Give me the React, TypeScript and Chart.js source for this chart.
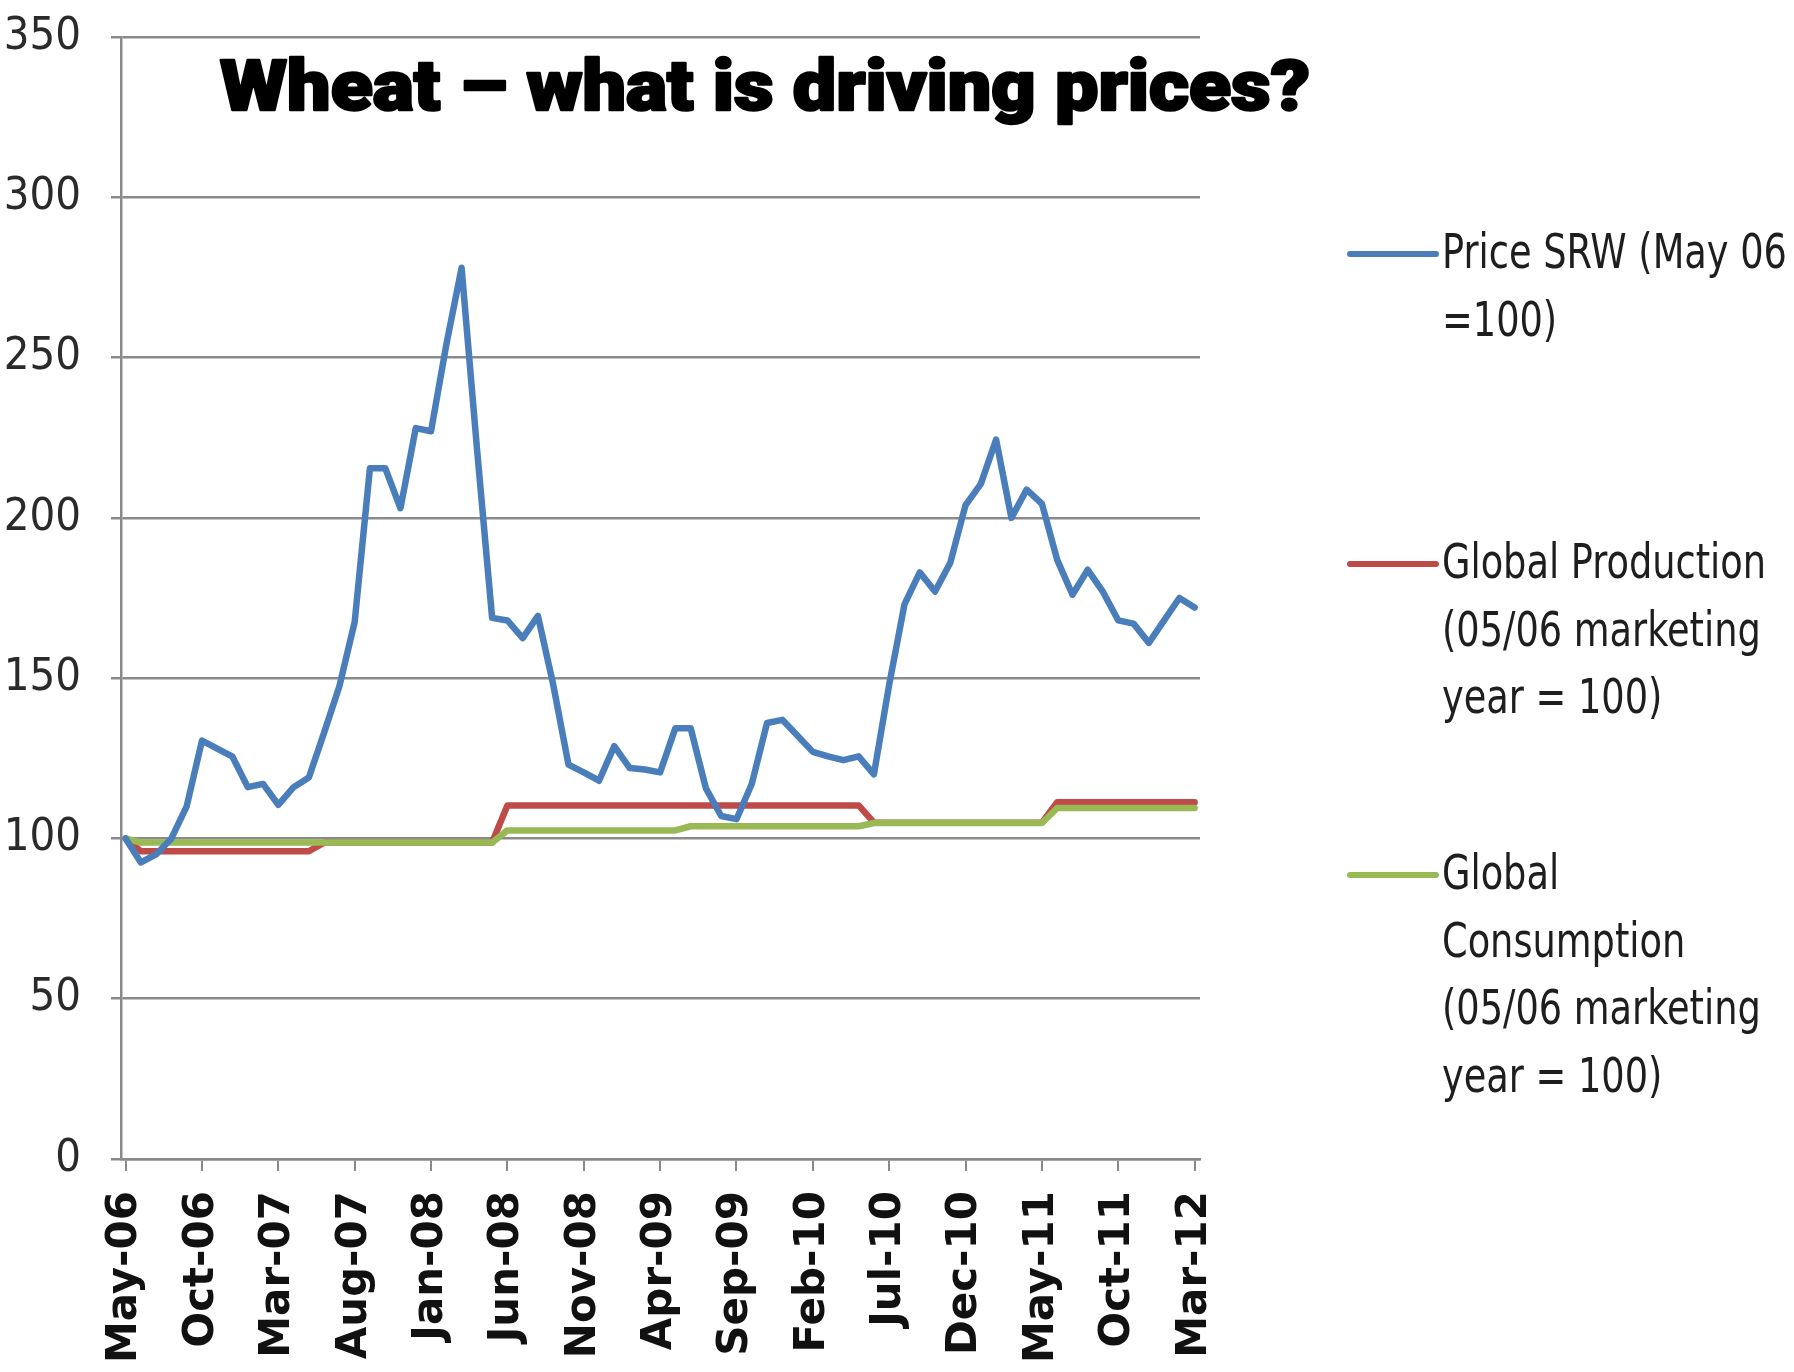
import React, { useEffect, useRef } from "react";
import { Chart, registerables } from "chart.js";

Chart.register(...registerables);

// ---------- data ----------
const months = [
  "May-06", "Jun-06", "Jul-06", "Aug-06", "Sep-06", "Oct-06", "Nov-06", "Dec-06",
  "Jan-07", "Feb-07", "Mar-07", "Apr-07", "May-07", "Jun-07", "Jul-07", "Aug-07", "Sep-07", "Oct-07", "Nov-07", "Dec-07",
  "Jan-08", "Feb-08", "Mar-08", "Apr-08", "May-08", "Jun-08", "Jul-08", "Aug-08", "Sep-08", "Oct-08", "Nov-08", "Dec-08",
  "Jan-09", "Feb-09", "Mar-09", "Apr-09", "May-09", "Jun-09", "Jul-09", "Aug-09", "Sep-09", "Oct-09", "Nov-09", "Dec-09",
  "Jan-10", "Feb-10", "Mar-10", "Apr-10", "May-10", "Jun-10", "Jul-10", "Aug-10", "Sep-10", "Oct-10", "Nov-10", "Dec-10",
  "Jan-11", "Feb-11", "Mar-11", "Apr-11", "May-11", "Jun-11", "Jul-11", "Aug-11", "Sep-11", "Oct-11", "Nov-11", "Dec-11",
  "Jan-12", "Feb-12", "Mar-12",
];

const tickLabels = [
  "May-06", "Oct-06", "Mar-07", "Aug-07", "Jan-08", "Jun-08", "Nov-08", "Apr-09",
  "Sep-09", "Feb-10", "Jul-10", "Dec-10", "May-11", "Oct-11", "Mar-12",
];

const yTicks = [0, 50, 100, 150, 200, 250, 300, 350];

const priceSRW = [
  100, 92.5, 95, 100, 110, 130.5, 128, 125.5, 116, 117,
  110.5, 116, 119, 133, 147.5, 167.5, 215.5, 215.5, 203, 228,
  227, 254, 278, 222, 168.8, 168, 162.5, 169.4, 148, 123,
  120.6, 118, 128.8, 122, 121.5, 120.6, 134.4, 134.4, 115.6, 107,
  106, 117, 136, 137, 132, 127, 125.6, 124.4, 125.6, 120,
  148, 173, 183, 177, 186, 204, 210.6, 224.4, 200, 208.8,
  204.4, 186.9, 176, 183.8, 176.9, 168, 167, 161, 168, 175, 172,
];

const globalProduction = [
  100,
  96, 96, 96, 96, 96, 96, 96, 96, 96, 96, 96, 96,
  98.7, 98.7, 98.7, 98.7, 98.7, 98.7, 98.7, 98.7, 98.7, 98.7, 98.7, 98.7,
  110.3, 110.3, 110.3, 110.3, 110.3, 110.3, 110.3, 110.3, 110.3, 110.3, 110.3, 110.3,
  110.3, 110.3, 110.3, 110.3, 110.3, 110.3, 110.3, 110.3, 110.3, 110.3, 110.3, 110.3,
  104.9, 104.9, 104.9, 104.9, 104.9, 104.9, 104.9, 104.9, 104.9, 104.9, 104.9, 104.9,
  111.3, 111.3, 111.3, 111.3, 111.3, 111.3, 111.3, 111.3, 111.3, 111.3,
];

const globalConsumption = [
  100,
  98.7, 98.7, 98.7, 98.7, 98.7, 98.7, 98.7, 98.7, 98.7, 98.7, 98.7, 98.7,
  98.7, 98.7, 98.7, 98.7, 98.7, 98.7, 98.7, 98.7, 98.7, 98.7, 98.7, 98.7,
  102.5, 102.5, 102.5, 102.5, 102.5, 102.5, 102.5, 102.5, 102.5, 102.5, 102.5, 102.5,
  103.8, 103.8, 103.8, 103.8, 103.8, 103.8, 103.8, 103.8, 103.8, 103.8, 103.8, 103.8,
  104.8, 104.8, 104.8, 104.8, 104.8, 104.8, 104.8, 104.8, 104.8, 104.8, 104.8, 104.8,
  109.5, 109.5, 109.5, 109.5, 109.5, 109.5, 109.5, 109.5, 109.5, 109.5,
];

const titleText = "Wheat \u2013 what is driving prices?";

const legendPrice = ["Price SRW (May 06", "=100)"];
const legendProduction = ["Global Production", "(05/06 marketing", "year = 100)"];
const legendConsumption = ["Global", "Consumption", "(05/06 marketing", "year = 100)"];

// ---------- styles ----------
const BLUE = "#4a7ebb";
const RED = "#be4b48";
const GREEN = "#98b954";
const GRID = "#8a8a8a";
const NARROW = '"Liberation Sans Narrow", "DejaVu Sans Condensed", "Liberation Sans", sans-serif';

const toPoints = (arr: number[]) => arr.map((v, i) => ({ x: i, y: v }));

const overlayPlugin = {
  id: "overlay",
  afterDraw(chart: any) {
    const ctx: CanvasRenderingContext2D = chart.ctx;
    // title
    ctx.save();
    ctx.font = '900 70px Roboto, Inter, Lato, "DejaVu Sans", sans-serif';
    ctx.fillStyle = "#000";
    ctx.strokeStyle = "#000";
    ctx.lineWidth = 2.5;
    ctx.lineJoin = "round";
    ctx.textBaseline = "alphabetic";
    ctx.textAlign = "left";
    const w = ctx.measureText(titleText).width;
    const sx = 1090 / w;
    ctx.translate(220, 110);
    ctx.scale(sx, 1);
    ctx.fillText(titleText, 0, 0);
    ctx.strokeText(titleText, 0, 0);
    ctx.restore();

    // legend
    const entries = [
      { lines: legendPrice, color: BLUE, y: 256 },
      { lines: legendProduction, color: RED, y: 566 },
      { lines: legendConsumption, color: GREEN, y: 877 },
    ];
    ctx.save();
    ctx.font = `48px ${NARROW}`;
    const lsx = 324 / ctx.measureText(legendProduction[0]).width;
    ctx.textBaseline = "middle";
    ctx.textAlign = "left";
    for (const e of entries) {
      ctx.strokeStyle = e.color;
      ctx.lineWidth = 6;
      ctx.lineCap = "round";
      ctx.beginPath();
      ctx.moveTo(1350, e.y - 2);
      ctx.lineTo(1436, e.y - 2);
      ctx.stroke();
      ctx.fillStyle = "#1e1e1e";
      e.lines.forEach((t, i) => {
        ctx.save();
        ctx.translate(1442, e.y + i * 67.5);
        ctx.scale(lsx, 1);
        ctx.fillText(t, 0, 0);
        ctx.restore();
      });
    }
    ctx.restore();
  },
};

export default function App() {
  const ref = useRef<HTMLCanvasElement>(null);

  useEffect(() => {
    document.body.style.margin = "0";
    document.body.style.background = "#fff";
    const canvas = ref.current;
    if (!canvas) return;

    const lineStyle = {
      borderWidth: 6.5,
      pointRadius: 0,
      tension: 0,
      borderJoinStyle: "round",
      borderCapStyle: "round",
    };

    const chart = new Chart(canvas, {
      type: "line",
      data: {
        datasets: [
          {
            label: legendPrice.join(" "),
            data: toPoints(priceSRW),
            borderColor: BLUE,
            backgroundColor: BLUE,
            order: 0,
            ...lineStyle,
          },
          {
            label: legendProduction.join(" "),
            data: toPoints(globalProduction),
            borderColor: RED,
            backgroundColor: RED,
            order: 2,
            ...lineStyle,
          },
          {
            label: legendConsumption.join(" "),
            data: toPoints(globalConsumption),
            borderColor: GREEN,
            backgroundColor: GREEN,
            order: 1,
            ...lineStyle,
          },
        ],
      },
      options: {
        responsive: false,
        animation: false,
        devicePixelRatio: 1,
        layout: { padding: { left: 0, right: 594, top: 37, bottom: 0 } },
        plugins: {
          legend: { display: false },
          title: { display: false },
          tooltip: { enabled: false },
        },
        scales: {
          x: {
            type: "linear",
            min: -0.3,
            max: 70.35,
            afterBuildTicks: (scale: any) => {
              scale.ticks = tickLabels.map((l) => ({ value: months.indexOf(l) }));
            },
            afterFit: (scale: any) => {
              scale.height = 213;
              scale.paddingLeft = 0;
              scale.paddingRight = 0;
            },
            ticks: {
              autoSkip: false,
              minRotation: 90,
              maxRotation: 90,
              padding: 20,
              color: "#111",
              font: { family: '"DejaVu Sans", sans-serif', size: 42, weight: "bold" },
              callback: (v: any) => months[Math.round(Number(v))] ?? "",
            },
            grid: {
              drawOnChartArea: false,
              drawTicks: true,
              tickLength: 12,
              color: GRID,
              lineWidth: 2,
            },
            border: { display: true, color: GRID, width: 2.5 },
          },
          y: {
            min: 0,
            max: 350,
            afterBuildTicks: (scale: any) => {
              scale.ticks = yTicks.map((v) => ({ value: v }));
            },
            afterFit: (scale: any) => {
              scale.width = 121;
              scale.paddingTop = 0;
              scale.paddingBottom = 0;
            },
            ticks: {
              padding: 30,
              color: "#2a2a2a",
              font: { family: NARROW, size: 45 },
            },
            grid: {
              color: GRID,
              lineWidth: 2.5,
              tickLength: 10,
            },
            border: { display: true, color: GRID, width: 2.5 },
          },
        },
      },
      plugins: [overlayPlugin],
    } as any);

    return () => chart.destroy();
  }, []);

  return <canvas ref={ref} width={1794} height={1372} style={{ display: "block" }} />;
}
